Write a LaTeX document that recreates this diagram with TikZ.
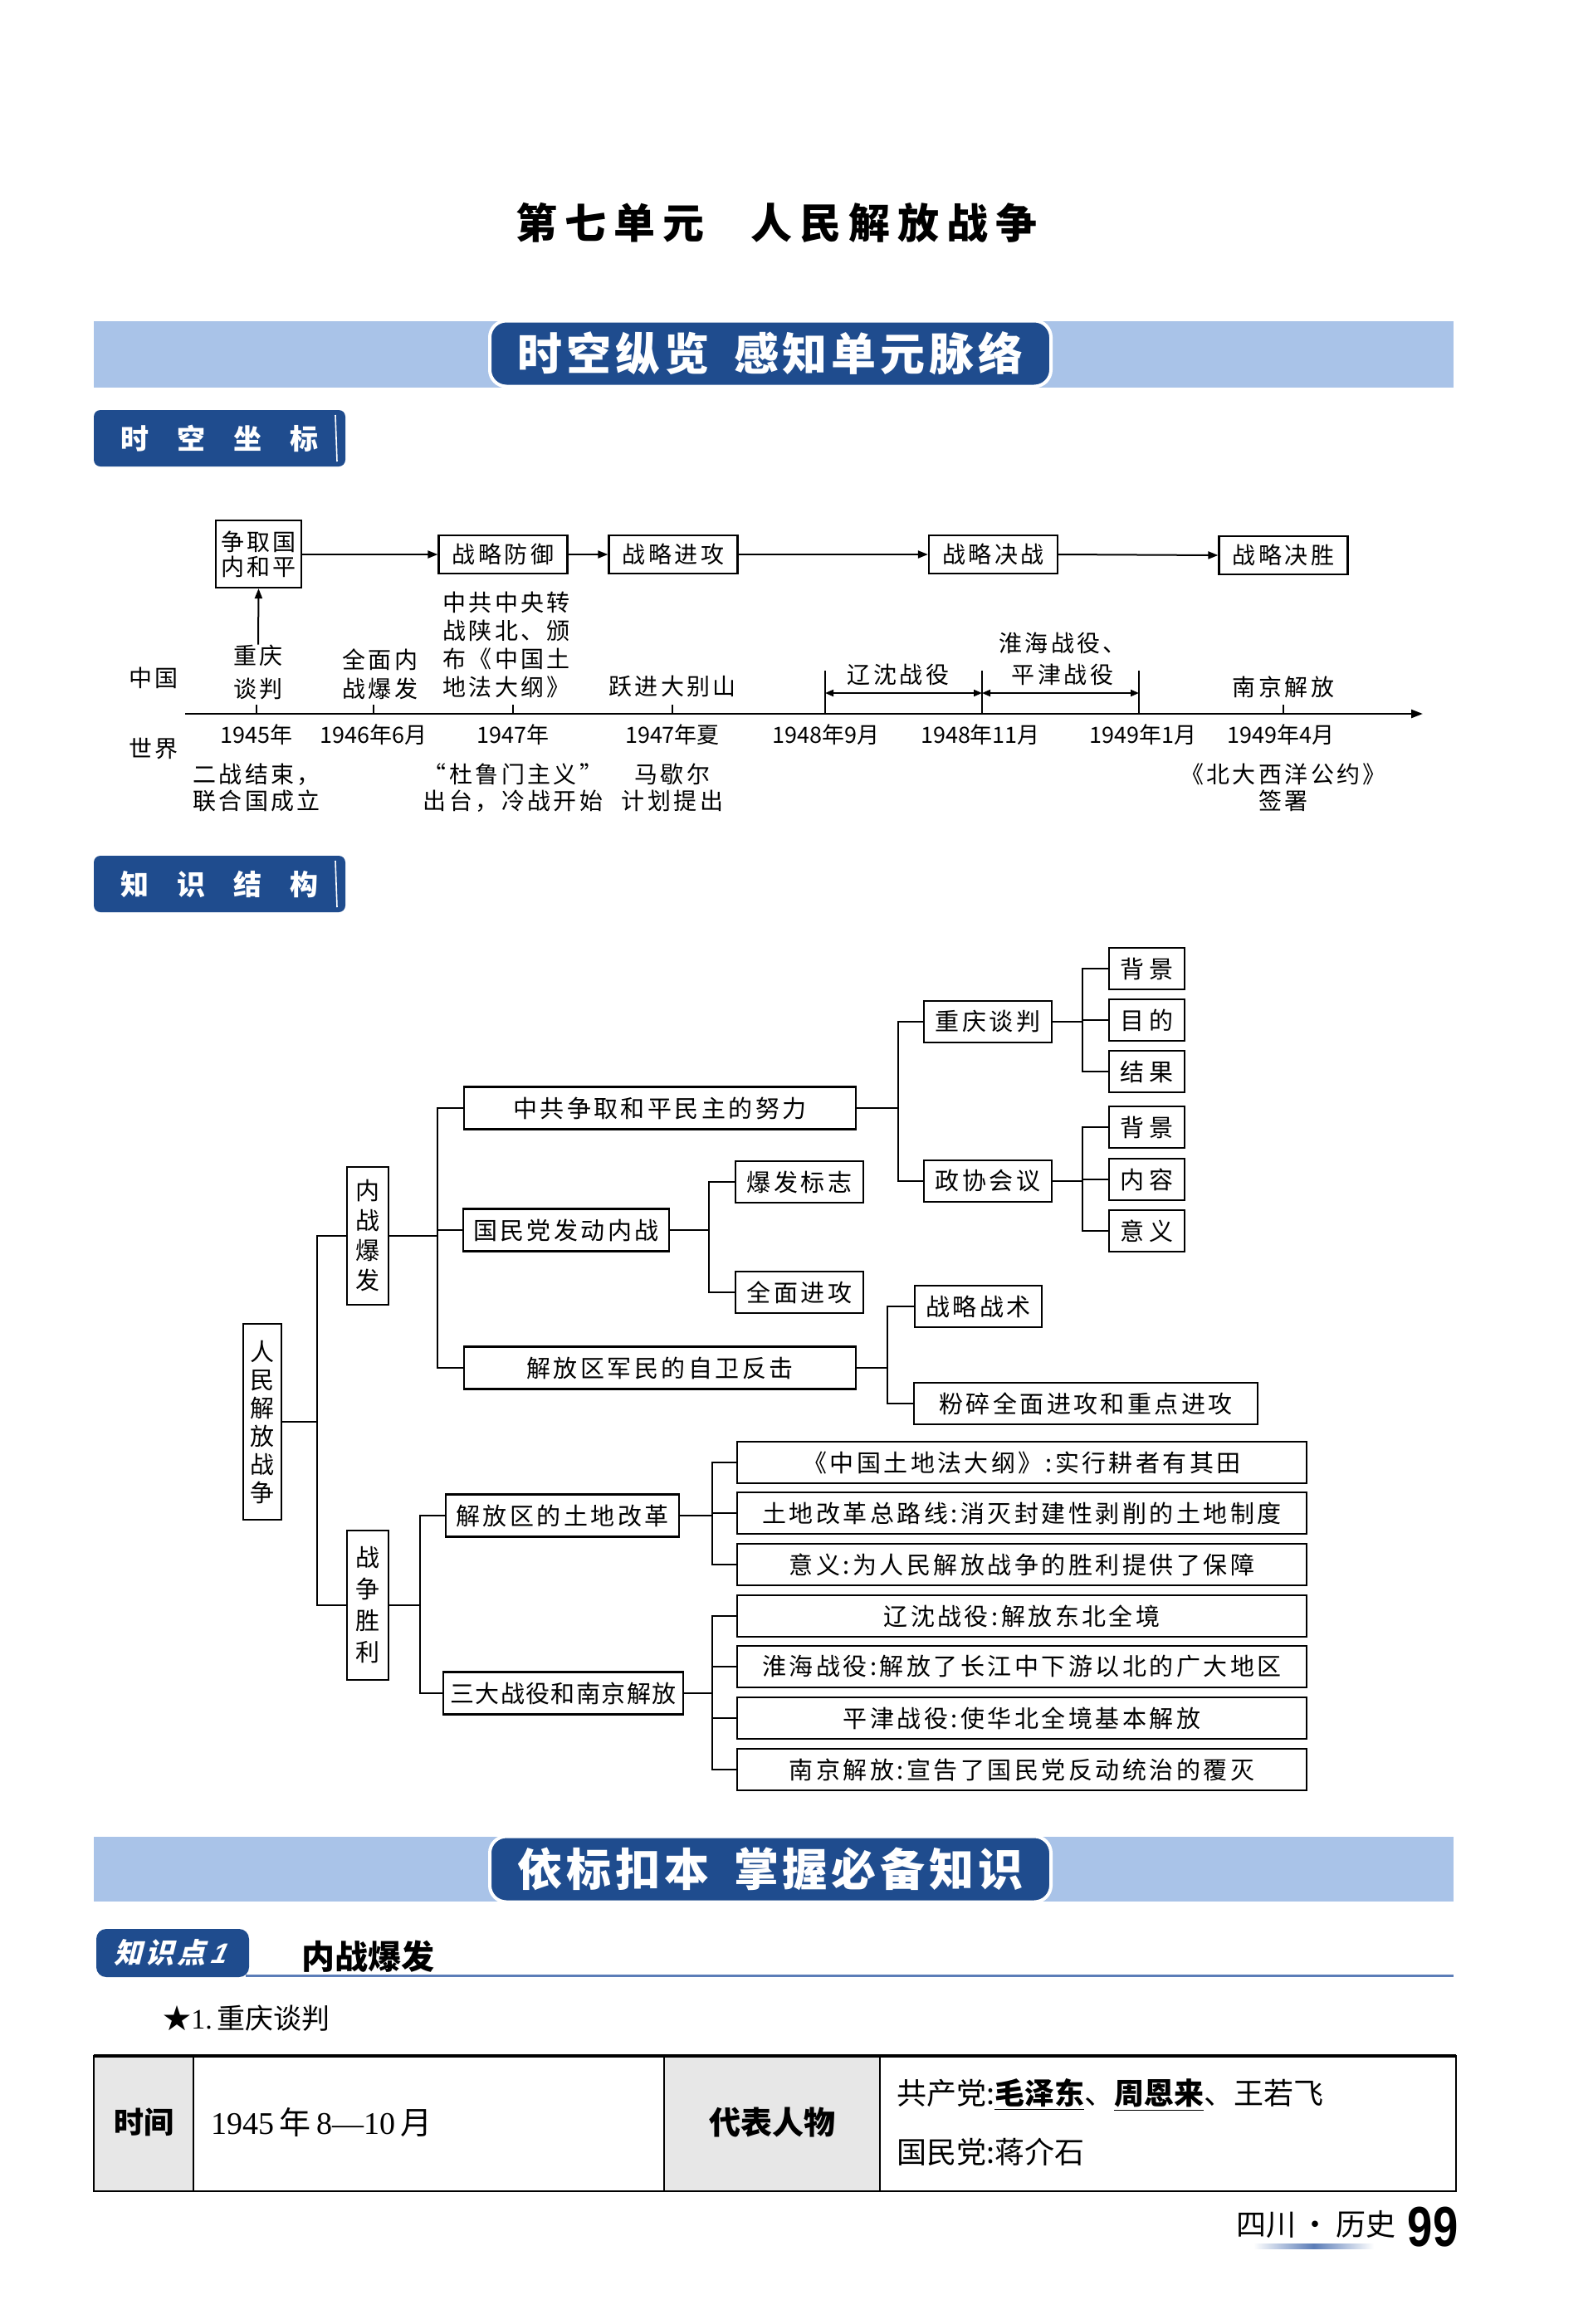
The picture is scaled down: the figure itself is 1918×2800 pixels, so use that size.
\documentclass[tikz,border=0pt]{standalone}
\usepackage{fontspec}
\setmainfont{Noto Sans CJK SC}
\newfontfamily\cjk{Noto Sans CJK SC}
\newfontfamily\cjksp[LetterSpace=12]{Noto Sans CJK SC}
\newfontfamily\cjkss[LetterSpace=5]{Noto Sans CJK SC}
\newfontfamily\ttlfont[LetterSpace=18]{Noto Sans CJK SC}
\newfontfamily\banfont[LetterSpace=9]{Noto Sans CJK SC}
\newfontfamily\tnr{Liberation Serif}
\newfontfamily\lsans{Liberation Sans}
\usetikzlibrary{arrows.meta}
\definecolor{darkblue}{HTML}{1F4C8E}
\definecolor{bandblue}{HTML}{A9C3E8}
\definecolor{lineblue}{HTML}{5B7DB8}
\definecolor{cellgray}{HTML}{E7E7E7}
\newcommand{\trf}{\cjksp\fontsize{14.5}{16}\selectfont}
\newcommand{\tlf}{\cjksp\fontsize{14}{17}\selectfont}
\begin{document}
\begin{tikzpicture}[x=0.5pt,y=-0.5pt,
  tb/.style={draw,line width=1.1pt,inner sep=0pt,font=\trf,align=center,minimum height=25pt},
  vb/.style={draw,line width=1.1pt,inner sep=0pt,align=center,minimum width=24pt},
  conn/.style={line width=1.1pt},
  tlbox/.style={draw,line width=1.1pt,inner sep=0pt,font=\tlf,align=center,minimum width=77.5pt,minimum height=23pt},
  tarrow/.style={line width=1pt,-{Triangle[length=6pt,width=4.5pt]}},
  tlab/.style={font=\tlf,align=center,inner sep=0pt},
  dlab/.style={font=\cjk\fontsize{13.5}{16}\selectfont,inner sep=0pt},
  banner/.style={fill=darkblue,draw=white,line width=2pt,rounded corners=10pt,minimum width=338pt,minimum height=39.5pt,text=white,font=\banfont\bfseries\fontsize{27}{30}\selectfont,inner sep=0pt},
  seclab/.style={fill=darkblue,rounded corners=4pt,minimum width=151.5pt,minimum height=34pt,text=white,font=\cjk\bfseries\fontsize{17}{20}\selectfont,inner sep=0pt}
]
\useasboundingbox (0,0) rectangle (1918,2800);
\fill[white] (0,0) rectangle (1918,2800);

% title
\node[font=\ttlfont\bfseries\fontsize{25}{30}\selectfont,inner sep=0pt] (title) at (935,268) {第七单元\hspace{28pt}人民解放战争};

% banner 1
\fill[bandblue] (113,387) rectangle (1751,467);
\node[banner] (ban1) at (928,426) {时空纵览\hspace{15pt}感知单元脉络};

% section label 1
\node[seclab] (sec1) at (264.5,528) {时\hspace{17pt}空\hspace{17pt}坐\hspace{17pt}标};
\draw[white,line width=0.8pt] (404,500) -- (406,556);

% ---------- timeline ----------
\node[tlbox,minimum width=51.5pt,minimum height=40.5pt,font=\cjksp\fontsize{14}{15}\selectfont] (zq) at (311.5,667.5) {争取国\\内和平};
\node[tlbox] (fy) at (606,668) {战略防御};
\node[tlbox] (jg) at (811,668) {战略进攻};
\node[tlbox] (jz) at (1196.5,668) {战略决战};
\node[tlbox] (js) at (1546,669) {战略决胜};
\draw[tarrow] (zq.east |- fy.west) -- (fy.west);
\draw[tarrow] (fy.east) -- (jg.west);
\draw[tarrow] (jg.east) -- (jz.west);
\draw[tarrow] (jz.east) -- (js.west);

\coordinate (ax0) at (223,860);
\coordinate (ax1) at (1714,860);
\draw[line width=1.2pt,-{Triangle[length=7pt,width=5pt]}] (ax0) -- (ax1);
\foreach \x in {309,450,618,810,1546} {\draw[line width=0.8pt] (\x,860) -- (\x,849);}
\foreach \x in {994,1183,1372} {\draw[line width=0.8pt] (\x,860) -- (\x,808);}
\coordinate (d1) at (994,835);
\coordinate (d2) at (1183,835);
\coordinate (d3) at (1372,835);
\draw[line width=1pt,{Triangle[length=5pt,width=4pt]}-{Triangle[length=5pt,width=4pt]}] (d1) -- (d2);
\draw[line width=1pt,{Triangle[length=5pt,width=4pt]}-{Triangle[length=5pt,width=4pt]}] (d2) -- (d3);

\node[tlab] (zh) at (185,817) {中国};
\node[tlab] (sj) at (185,902) {世界};
\node[tlab,font=\cjksp\fontsize{14}{20}\selectfont] (lcq) at (311,810) {重庆\\谈判};
\node[tlab,font=\cjksp\fontsize{14}{17.5}\selectfont] (lqm) at (458,812) {全面内\\战爆发};
\node[tlab] (lzg) at (610,777) {中共中央转\\战陕北、颁\\布《中国土\\地法大纲》};
\node[tlab] (lyj) at (810,827) {跃进大别山};
\node[tlab] (lls) at (1082,813) {辽沈战役};
\node[tlab,font=\cjksp\fontsize{14}{19}\selectfont] (lhh) at (1280,794) {淮海战役、\\平津战役};
\node[tlab] (lnj) at (1546,828) {南京解放};
\draw[tarrow] (lcq.north) -- (zq.south);

\node[dlab] (y1) at (309,885) {1945年};
\node[dlab] (y2) at (450,885) {1946年6月};
\node[dlab] (y3) at (618,885) {1947年};
\node[dlab] (y4) at (810,885) {1947年夏};
\node[dlab] (y5) at (995,885) {1948年9月};
\node[dlab] (y6) at (1181,885) {1948年11月};
\node[dlab] (y7) at (1377,885) {1949年1月};
\node[dlab] (y8) at (1543,885) {1949年4月};

\node[tlab,font=\cjksp\fontsize{14}{16}\selectfont] (w1) at (309,949) {二战结束，\\联合国成立};
\node[tlab,font=\cjksp\fontsize{14}{16}\selectfont] (w2) at (618,949) {“杜鲁门主义”\\出台，冷战开始};
\node[tlab,font=\cjksp\fontsize{14}{16}\selectfont] (w3) at (810,949) {马歇尔\\计划提出};
\node[tlab,font=\cjksp\fontsize{14}{16}\selectfont] (w4) at (1546,949) {《北大西洋公约》\\签署};

% section label 2
\node[seclab] (sec2) at (264.5,1065) {知\hspace{17pt}识\hspace{17pt}结\hspace{17pt}构};
\draw[white,line width=0.8pt] (404,1037) -- (406,1093);

% ---------- knowledge tree ----------
\node[vb,minimum width=23pt,minimum height=118pt,font=\cjksp\fontsize{14.5}{17}\selectfont] (root) at (316,1713) {人\\民\\解\\放\\战\\争};
\node[vb,minimum width=25pt,minimum height=83pt,font=\cjksp\fontsize{14.5}{18}\selectfont] (nz) at (443,1489) {内\\战\\爆\\发};
\node[vb,minimum width=25pt,minimum height=90pt,font=\cjksp\fontsize{14.5}{19}\selectfont] (zs) at (443,1934) {战\\争\\胜\\利};

\node[tb,minimum width=236pt,minimum height=25.5pt] (A) at (795,1335) {中共争取和平民主的努力};
\node[tb,minimum width=124pt,minimum height=25.5pt] (B) at (682,1482) {国民党发动内战};
\node[tb,minimum width=236pt,minimum height=25.5pt] (C) at (795,1648) {解放区军民的自卫反击};
\node[tb,minimum width=140.5pt,minimum height=25.5pt] (D) at (677.5,1826) {解放区的土地改革};
\node[tb,minimum width=144.5pt,minimum height=25.5pt,font=\cjkss\fontsize{14.5}{16}\selectfont] (E) at (678.5,2040) {三大战役和南京解放};

\node[tb,minimum width=77pt] (cq) at (1190,1231) {重庆谈判};
\node[tb,minimum width=77pt] (zx) at (1190,1423) {政协会议};
\node[tb,minimum width=45.5pt] (bj1) at (1381.5,1167) {背\hspace{3pt}景};
\node[tb,minimum width=45.5pt] (md) at (1381.5,1229) {目\hspace{3pt}的};
\node[tb,minimum width=45.5pt] (jgu) at (1381.5,1291) {结\hspace{3pt}果};
\node[tb,minimum width=45.5pt] (bj2) at (1381.5,1358) {背\hspace{3pt}景};
\node[tb,minimum width=45.5pt] (nr) at (1381.5,1421) {内\hspace{3pt}容};
\node[tb,minimum width=45.5pt] (yy) at (1381.5,1483) {意\hspace{3pt}义};
\node[tb,minimum width=77pt] (bf) at (963,1424) {爆发标志};
\node[tb,minimum width=77pt] (qm) at (963,1557) {全面进攻};
\node[tb,minimum width=76.5pt] (zl) at (1178.5,1574) {战略战术};
\node[tb,minimum width=207pt] (fs) at (1308,1691) {粉碎全面进攻和重点进攻};

\node[tb,minimum width=343pt] (r1) at (1231,1762) {《中国土地法大纲》:实行耕者有其田};
\node[tb,minimum width=343pt] (r2) at (1231,1823) {土地改革总路线:消灭封建性剥削的土地制度};
\node[tb,minimum width=343pt] (r3) at (1231,1885) {意义:为人民解放战争的胜利提供了保障};
\node[tb,minimum width=343pt] (r4) at (1231,1947) {辽沈战役:解放东北全境};
\node[tb,minimum width=343pt] (r5) at (1231,2008) {淮海战役:解放了长江中下游以北的广大地区};
\node[tb,minimum width=343pt] (r6) at (1231,2070) {平津战役:使华北全境基本解放};
\node[tb,minimum width=343pt] (r7) at (1231,2132) {南京解放:宣告了国民党反动统治的覆灭};

\coordinate (j0) at (382,0);
\coordinate (j1) at (527,0);
\coordinate (j2) at (506,0);
\coordinate (j3) at (1082,0);
\coordinate (j4) at (854,0);
\coordinate (j5) at (1069,0);
\coordinate (j6) at (1304,0);
\coordinate (j7) at (858,0);

\draw[conn] (root.east) -- (root.east -| j0);
\foreach \c in {nz,zs} {\draw[conn] (root.east -| j0) |- (\c.west);}
\draw[conn] (nz.east) -- (nz.east -| j1);
\foreach \c in {A,B,C} {\draw[conn] (nz.east -| j1) |- (\c.west);}
\draw[conn] (zs.east) -- (zs.east -| j2);
\foreach \c in {D,E} {\draw[conn] (zs.east -| j2) |- (\c.west);}
\draw[conn] (A.east) -- (A.east -| j3);
\foreach \c in {cq,zx} {\draw[conn] (A.east -| j3) |- (\c.west);}
\draw[conn] (cq.east) -- (cq.east -| j6);
\foreach \c in {bj1,md,jgu} {\draw[conn] (cq.east -| j6) |- (\c.west);}
\draw[conn] (zx.east) -- (zx.east -| j6);
\foreach \c in {bj2,nr,yy} {\draw[conn] (zx.east -| j6) |- (\c.west);}
\draw[conn] (B.east) -- (B.east -| j4);
\foreach \c in {bf,qm} {\draw[conn] (B.east -| j4) |- (\c.west);}
\draw[conn] (C.east) -- (C.east -| j5);
\foreach \c in {zl,fs} {\draw[conn] (C.east -| j5) |- (\c.west);}
\draw[conn] (D.east) -- (D.east -| j7);
\foreach \c in {r1,r2,r3} {\draw[conn] (D.east -| j7) |- (\c.west);}
\draw[conn] (E.east) -- (E.east -| j7);
\foreach \c in {r4,r5,r6,r7} {\draw[conn] (E.east -| j7) |- (\c.west);}

% ---------- banner 2 ----------
\fill[bandblue] (113,2213) rectangle (1751,2291);
\node[banner] (ban2) at (928,2252) {依标扣本\hspace{15pt}掌握必备知识};

% knowledge point 1
\draw[lineblue,line width=1.5pt] (296,2380) -- (1751,2380);
\node[fill=darkblue,rounded corners=6pt,minimum width=92pt,minimum height=29pt,inner sep=0pt] (kp) at (208,2353) {};
\node[text=white,font=\cjksp\bfseries\fontsize{17}{18}\selectfont,xslant=0.25,inner sep=0pt] (kpt) at (kp) {知识点\,{\lsans\itshape 1}};
\node[font=\cjk\bfseries\fontsize{20}{22}\selectfont,inner sep=0pt] (kpn) at (443,2357) {内战爆发};
\node[font=\cjk\fontsize{17}{19}\selectfont,anchor=west,inner sep=0pt] (st) at (196,2432) {★{\tnr 1.}\,重庆谈判};

% table
\fill[cellgray] (113,2477) rectangle (233,2640);
\fill[cellgray] (800,2477) rectangle (1060,2640);
\coordinate (tl) at (113,2477);
\coordinate (br) at (1754,2640);
\draw[line width=0.8pt] (tl) rectangle (br);
\draw[line width=1.6pt] (tl) -- (tl -| br);
\draw[line width=1.2pt] (br -| tl) -- (br);
\foreach \x in {233,800,1060} {\draw[line width=0.8pt] (\x,2477) -- (\x,2640);}
\node[font=\cjk\bfseries\fontsize{18}{20}\selectfont,inner sep=0pt] (c1) at (173,2557) {时间};
\node[font=\cjk\fontsize{19}{21}\selectfont,anchor=west,inner sep=0pt] (c2) at (254,2557) {{\tnr 1945}\,年\,{\tnr 8—10}\,月};
\node[font=\cjk\bfseries\fontsize{19}{21}\selectfont,inner sep=0pt] (c3) at (930,2557) {代表人物};
\node[font=\cjk\fontsize{18}{20}\selectfont,anchor=west,inner sep=0pt] (c4) at (1080,2524) {共产党:\underline{\bfseries 毛泽东}、\underline{\bfseries 周恩来}、王若飞};
\node[font=\cjk\fontsize{18}{20}\selectfont,anchor=west,inner sep=0pt] (c5) at (1080,2593) {国民党:蒋介石};

% footer
\node[font=\cjk\fontsize{18}{20}\selectfont,inner sep=0pt] (ft) at (1585,2680) {四川\,·\,历史};
\node[font=\lsans\bfseries\fontsize{34}{36}\selectfont,xscale=0.8,inner sep=0pt] (pg) at (1726,2683) {99};
\shade[left color=white,right color=white,middle color=lineblue] (1510,2703) rectangle (1655,2709);
\end{tikzpicture}
\end{document}
